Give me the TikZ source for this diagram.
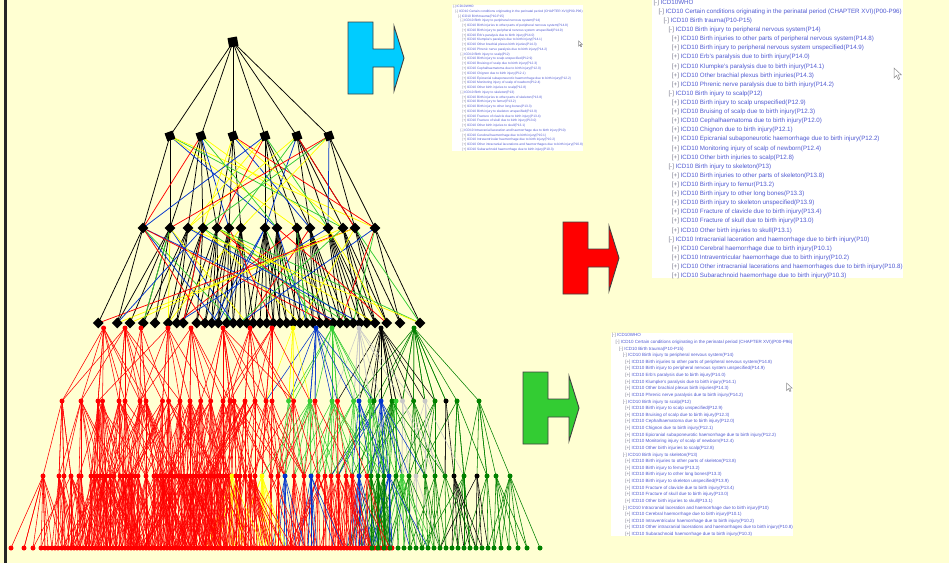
\documentclass[tikz,border=0pt]{standalone}
\usepackage{fontspec}
\setmainfont{Liberation Sans}
\usetikzlibrary{shapes.geometric}

\pgfdeclarelayer{paperbg}
\pgfdeclarelayer{wires}
\pgfsetlayers{paperbg,wires,main}

\definecolor{paper}{RGB}{255,255,210}
\definecolor{cR}{RGB}{255,0,0}
\definecolor{cY}{RGB}{255,255,0}
\definecolor{cB}{RGB}{0,51,204}
\definecolor{cG}{RGB}{51,204,51}
\definecolor{cS}{RGB}{200,200,200}
\definecolor{cK}{RGB}{0,0,0}
\definecolor{cD}{RGB}{0,128,0}
\definecolor{arrCyan}{RGB}{0,204,255}
\definecolor{arrRed}{RGB}{255,0,0}
\definecolor{arrGreen}{RGB}{51,204,51}
\definecolor{listblue}{RGB}{80,90,210}
\definecolor{listgray}{RGB}{120,120,140}

\tikzset{
  topnode/.style={fill=black, rectangle, minimum size=9.5pt, inner sep=0pt, rotate=10},
  sqnode/.style={fill=black, rectangle, minimum size=8.5pt, inner sep=0pt, rotate=20},
  dnode/.style={fill=black, diamond, minimum size=11pt, inner sep=0pt},
  dot/.style={circle, minimum size=5pt, inner sep=0pt},
  upwire/.style={line width=0.75pt},
  lowwire/.style={line width=0.55pt},
  arrowshape/.style={draw=black!75, line width=0.9pt, line join=miter},
  listtext/.style={anchor=west, inner sep=0pt, font=\fontsize{6.2}{7}\selectfont,
    text=listblue, transform shape},
}

% x positions of the upper hierarchy levels
\def\RowL{170,201,233,265,297,329}
\def\RowM{143,170,188,203,217,229,241,265,277,297,310,328,343,355,375}
\def\RowN{98.3,117.3,130,143.3,155,168.3,176.7,183.3,196.7,205,211.7,218.3,226.7,
  233.3,240,246.7,253.3,260,266.7,273.3,280,286.7,293.3,300,306.7,313.3,320,326.7,
  333.3,340,346.7,353.3,360,366.7,375,386.7,400,420}

% x position / colour of the lower tree levels
\def\RowA{103.6/cR,125/cR,141/cR,168/cR,191/cR,223/cR,250/cR,272/cR,293/cY,316/cB,
  332/cG,359/cS,381/cK,414/cD}
\def\RowB{62/cR,81/cR,98/cR,102.5/cR,119/cR,125/cR,140/cR,146/cR,162.5/cR,168.6/cR,
  180/cR,190/cR,200.7/cR,210.7/cR,223/cR,230/cR,234/cR,245/cR,255/cR,266/cR,272/cR,
  288.6/cG,293.6/cR,310/cG,315/cR,332/cG,337.5/cR,353.6/cG,359/cB,370/cG,374/cD,
  381/cB,392/cD,396/cG,402.5/cS,413.6/cD,425/cS,435/cD,446/cK,457/cD,479/cD}
\def\RowC{43/cR,59/cR,64/cR,71/cR,79/cR,81/cR,91/cR,94/cR,97/cR,100/cR,103/cR,106/cR,
  110/cR,114/cR,120/cR,123/cR,126/cR,129/cR,132/cR,135/cR,138/cR,146/cR,154/cR,157/cR,
  160/cR,163/cR,166/cR,169/cR,172/cR,175/cR,178/cR,181/cR,184/cR,187/cR,190/cR,193/cR,
  196/cR,199/cR,202/cR,205/cR,208/cR,211/cR,214/cR,217/cR,220/cR,223/cR,226/cR,229/cR,
  232/cY,236/cR,240/cR,245/cR,250/cR,255/cR,262/cY,271/cR,278/cR,285/cB,294/cR,304/cR,
  311/cB,318/cR,325/cR,331/cR,338/cR,346/cR,352/cR,359/cB,367/cR,371/cD,378/cD,384/cD,
  389/cB,396/cD,402/cG,409/cD,416/cS,425/cD,435/cD,445/cD,454/cK,464/cD,477/cK,487/cD,
  496/cD,510/cD}
\def\RowD{}
\newcommand\addtorow[2]{\ifx\RowD\empty\xdef\RowD{#1/#2}\else\xdef\RowD{\RowD,#1/#2}\fi}
\foreach \x in {11,24,33,41,45,48,52,55,58} {\addtorow{\x}{cR}}
\foreach \x in {62,65,...,392} {\addtorow{\x}{cR}}
\foreach \x in {372,378,384,390} {\addtorow{\x}{cD}}
\foreach \x in {398,404,...,494} {\addtorow{\x}{cD}}
\foreach \x in {501,509,518,527,540} {\addtorow{\x}{cD}}

% links every child to its nearest parent and, at random, to other
% parents within a window (#5); #6 scales the chance of a link
\newdimen\gapdim
\newcommand\linkrows[6]{%
  \foreach \cx/\cxcol [count=\j] in #4 {%
    \gdef\bestd{16000pt}%
    \foreach \px/\pc [count=\i] in #2 {%
      \gapdim=\dimexpr\px pt-\cx pt\relax
      \ifdim\gapdim<0pt \gapdim=-\gapdim\fi
      \ifdim\gapdim<\bestd \xdef\bestd{\the\gapdim}\xdef\besti{\i}\xdef\bestc{\pc}\fi
      \ifdim\gapdim<#5pt
        \pgfmathsetmacro\pthr{#6*(1-\gapdim/#5)}%
        \pgfmathsetmacro\rval{rnd}%
        \ifdim\rval pt<\pthr pt \draw[lowwire, draw=\pc] (#1\i.center) -- (#3\j.center);\fi
      \fi
    }%
    \draw[lowwire, draw=\bestc] (#1\besti.center) -- (#3\j.center);
  }%
}

% ICD-10 tree listing shown in the three screenshots
\def\TreeLines{%
1.3/-/ICD10WHO,
6.3/-/ICD10 Certain conditions originating in the perinatal period (CHAPTER XVI)(P00-P96),
11.3/-/ICD10 Birth trauma(P10-P15),
16.3/-/ICD10 Birth injury to peripheral nervous system(P14),
19.7/+/ICD10 Birth injuries to other parts of peripheral nervous system(P14.8),
19.7/+/ICD10 Birth injury to peripheral nervous system unspecified(P14.9),
19.7/+/ICD10 Erb's paralysis due to birth injury(P14.0),
19.7/+/ICD10 Klumpke's paralysis due to birth injury(P14.1),
19.7/+/ICD10 Other brachial plexus birth injuries(P14.3),
19.7/+/ICD10 Phrenic nerve paralysis due to birth injury(P14.2),
16.3/-/ICD10 Birth injury to scalp(P12),
19.7/+/ICD10 Birth injury to scalp unspecified(P12.9),
19.7/+/ICD10 Bruising of scalp due to birth injury(P12.3),
19.7/+/ICD10 Cephalhaematoma due to birth injury(P12.0),
19.7/+/ICD10 Chignon due to birth injury(P12.1),
19.7/+/ICD10 Epicranial subaponeurotic haemorrhage due to birth injury(P12.2),
19.7/+/ICD10 Monitoring injury of scalp of newborn(P12.4),
19.7/+/ICD10 Other birth injuries to scalp(P12.8),
16.3/-/ICD10 Birth injury to skeleton(P13),
19.7/+/ICD10 Birth injuries to other parts of skeleton(P13.8),
19.7/+/ICD10 Birth injury to femur(P13.2),
19.7/+/ICD10 Birth injury to other long bones(P13.3),
19.7/+/ICD10 Birth injury to skeleton unspecified(P13.9),
19.7/+/ICD10 Fracture of clavicle due to birth injury(P13.4),
19.7/+/ICD10 Fracture of skull due to birth injury(P13.0),
19.7/+/ICD10 Other birth injuries to skull(P13.1),
16.3/-/ICD10 Intracranial laceration and haemorrhage due to birth injury(P10),
19.7/+/ICD10 Cerebral haemorrhage due to birth injury(P10.1),
19.7/+/ICD10 Intraventricular haemorrhage due to birth injury(P10.2),
19.7/+/ICD10 Other intracranial lacerations and haemorrhages due to birth injury(P10.8),
19.7/+/ICD10 Subarachnoid haemorrhage due to birth injury(P10.3)}

\newcommand\treepanel[1]{%
  \fill[white] (0,-1) rectangle (251,278);
  \foreach \lx/\sg/\txt [count=\k] in \TreeLines {%
    \node[listtext] (#1\k) at (\lx,{2.7+9.11*(\k-1)}) {\textcolor{listgray}{[\sg]} \txt};
  }
  % mouse pointer
  \draw[fill=white, draw=black!45, line width=0.5pt]
    (242,68) -- (242,78) -- (244.5,75.5) -- (246.3,79.5) -- (247.8,78.8)
    -- (246,74.8) -- (249.3,74.8) -- cycle;
}

\newcommand\blockarrow[2]{%
  \begin{scope}[shift={#1}]
    \draw[arrowshape, fill=#2] (0,0) -- (25,0) -- (25,27) -- (46,27) -- (46,4)
      -- (56,36) -- (46,69) -- (46,45) -- (25,45) -- (25,72) -- (0,72) -- cycle;
  \end{scope}}

\begin{document}
\begin{tikzpicture}[x=1pt,y=-1pt]
\useasboundingbox (0,0) rectangle (949,563);
\begin{pgfonlayer}{paperbg}
  \fill[paper] (0,0) rectangle (949,563);
\end{pgfonlayer}
\draw[line width=3pt, draw=black!85] (5,0) -- (5,563);

% upper hierarchy
\node[topnode] (R) at (233,42) {};
\foreach \x [count=\i] in \RowL {\node[sqnode] (L\i) at (\x,136) {};}
\foreach \x [count=\i] in \RowM {\node[dnode] (M\i) at (\x,228) {};}
\foreach \x [count=\i] in \RowN {\node[dnode] (N\i) at (\x,323) {};}

% lower tree
\foreach \x/\col [count=\i] in \RowA {\node[dot, fill=\col] (A\i) at (\x,328) {};}
\foreach \x/\col [count=\i] in \RowB {\node[dot, fill=\col] (B\i) at (\x,401) {};}
\foreach \x/\col [count=\i] in \RowC {\node[dot, fill=\col] (C\i) at (\x,476) {};}
\foreach \x/\col [count=\i] in \RowD {\node[dot, fill=\col] (D\i) at (\x,548) {};}

\begin{pgfonlayer}{wires}
  \pgfmathsetseed{4711}
  \linkrows{A}{\RowA}{B}{\RowB}{75}{0.9}
  \linkrows{B}{\RowB}{C}{\RowC}{60}{0.6}
  \linkrows{C}{\RowC}{D}{\RowD}{45}{0.45}

  \foreach \i in {1,...,6} {\draw[upwire] (R.center) -- (L\i.center);}
  % black links, level 1 to level 2
  \foreach \x [count=\j] in \RowM {
    \pgfmathsetmacro\mapped{170+(\x-143)*0.6853}
    \foreach \lx [count=\i] in \RowL {
      \gapdim=\dimexpr\lx pt-\mapped pt\relax
      \ifdim\gapdim<0pt \gapdim=-\gapdim\fi
      \ifdim\gapdim<20pt \draw[upwire] (L\i.center) -- (M\j.center);\fi
    }
  }
  % black links, level 2 to level 3
  \foreach \x [count=\j] in \RowN {
    \pgfmathsetmacro\mapped{143+(\x-98.3)*0.7212}
    \foreach \mx [count=\i] in \RowM {
      \gapdim=\dimexpr\mx pt-\mapped pt\relax
      \ifdim\gapdim<0pt \gapdim=-\gapdim\fi
      \ifdim\gapdim<15pt \draw[upwire] (M\i.center) -- (N\j.center);\fi
    }
  }
  % coloured cross links, level 1 to level 2
  \foreach \p/\q/\wc in {1/9/cB,1/10/cY,1/13/cG,1/15/cY,2/1/cR,2/6/cB,2/12/cY,
      3/4/cY,3/11/cB,3/15/cR,4/1/cB,4/3/cY,4/5/cR,4/12/cG,5/3/cY,5/6/cG,5/8/cB,
      5/14/cR,6/2/cR,6/7/cY,6/12/cB,2/9/cG,3/13/cY,6/4/cG} {
    \draw[upwire, draw=\wc] (L\p.center) -- (M\q.center);
  }
  % coloured cross links, level 2 to level 3
  \pgfmathsetseed{2024}
  \foreach \k in {0,...,39} {
    \pgfmathtruncatemacro\msel{random(1,15)}
    \pgfmathtruncatemacro\nsel{random(1,38)}
    \pgfmathtruncatemacro\csel{mod(\k,4)}
    \edef\wc{\ifcase\csel cR\or cY\or cB\or cG\fi}
    \draw[upwire, draw=\wc] (M\msel.center) -- (N\nsel.center);
  }
\end{pgfonlayer}

% block arrows
\blockarrow{(348,22)}{arrCyan}
\blockarrow{(563,222)}{arrRed}
\blockarrow{(523,372)}{arrGreen}

% screenshots of the tree view
\begin{scope}[shift={(652,0)}]
  \treepanel{P}
\end{scope}
\begin{scope}[shift={(452,5.3)}, scale=0.523]
  \treepanel{Q}
\end{scope}
\begin{scope}[shift={(610.8,333.7)}, scale=0.727]
  \treepanel{S}
\end{scope}
\end{tikzpicture}
\end{document}
